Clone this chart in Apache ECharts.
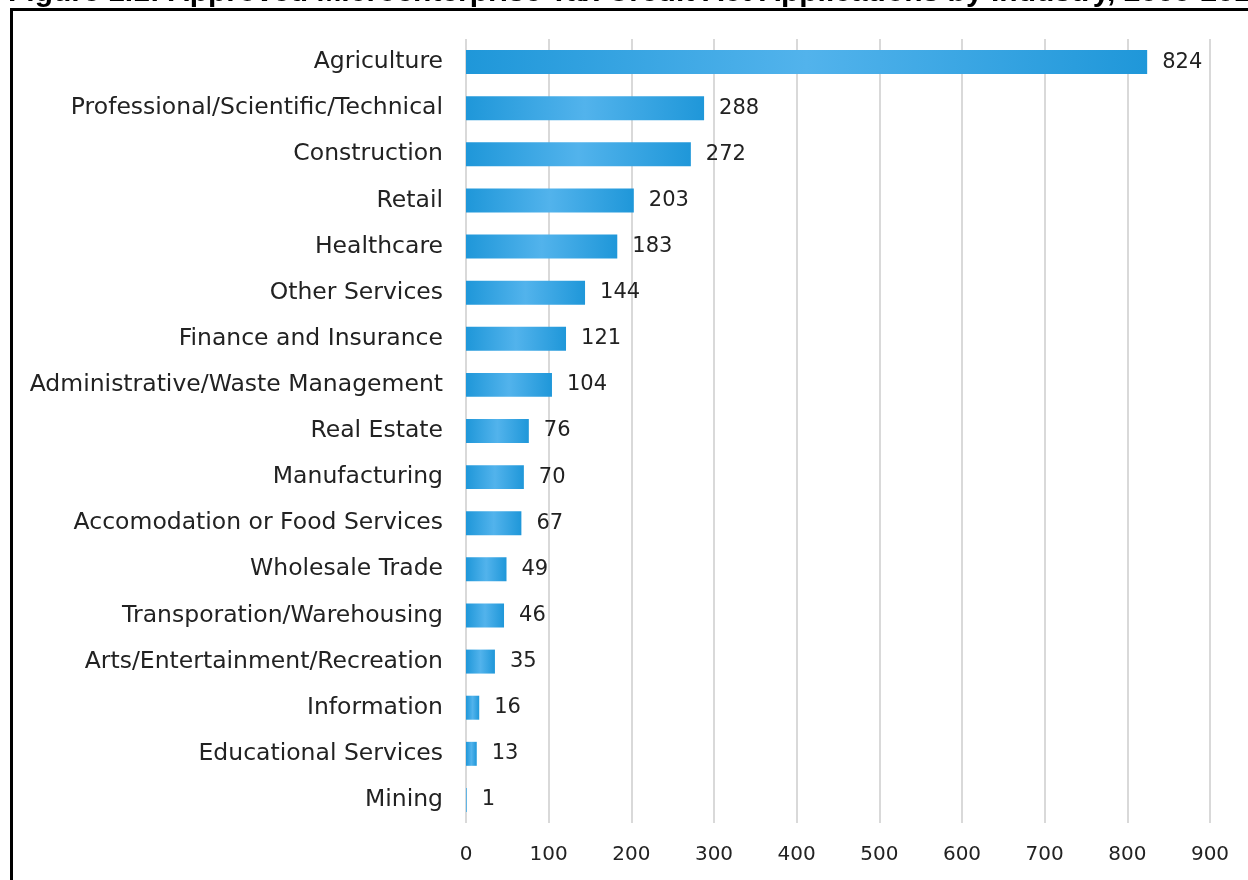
<!DOCTYPE html>
<html>
<head>
<meta charset="utf-8">
<script src="https://cdn.jsdelivr.net/npm/echarts@6/dist/echarts.min.js"></script>
<style>
html,body{margin:0;padding:0;background:#fff;}
#chart{width:1248px;height:880px;}
</style>
</head>
<body>
<div id="chart"></div>
<script>
const titleText = 'Figure 1.1: Approved Microenterprise Tax Credit Act Applications by Industry, 2000-2016';
const categories = ['Agriculture','Professional/Scientific/Technical','Construction','Retail','Healthcare','Other Services','Finance and Insurance','Administrative/Waste Management','Real Estate','Manufacturing','Accomodation or Food Services','Wholesale Trade','Transporation/Warehousing','Arts/Entertainment/Recreation','Information','Educational Services','Mining'];
const values = [824,288,272,203,183,144,121,104,76,70,67,49,46,35,16,13,1];
const xTicks = [0,100,200,300,400,500,600,700,800,900];

const FONT = 'DejaVu Sans';
const chart = echarts.init(document.getElementById('chart'), null, {renderer:'canvas'});
chart.setOption({
  animation:false,
  backgroundColor:'#ffffff',
  graphic:[
    {type:'text', left:8, top:-22, style:{text:titleText, font:'bold 30px "Liberation Sans", Arial', fill:'#000'}},
    {type:'rect', shape:{x:11.5, y:9.5, width:1400, height:1000}, style:{fill:'none', stroke:'#000', lineWidth:3}}
  ],
  grid:{left:466, right:38, top:39, bottom:57, containLabel:false},
  xAxis:{
    type:'value', min:xTicks[0], max:xTicks[xTicks.length-1], interval:100,
    axisLine:{show:false}, axisTick:{show:false},
    splitLine:{lineStyle:{color:'#d9d9d9', width:2}},
    axisLabel:{color:'#222', fontSize:20, fontFamily:FONT, margin:22}
  },
  yAxis:{
    type:'category', data:categories, inverse:true,
    axisLine:{show:false}, axisTick:{show:false},
    axisLabel:{color:'#222', fontSize:23.5, fontFamily:FONT, margin:23}
  },
  series:[{
    type:'bar', data:values, barWidth:'52%',
    itemStyle:{color:new echarts.graphic.LinearGradient(0,0,1,0,[
      {offset:0,color:'#1f97d9'},{offset:0.5,color:'#52b3ec'},{offset:1,color:'#1f97d9'}])},
    label:{show:true, position:'right', distance:15, color:'#222', fontSize:21, fontFamily:FONT}
  }]
});
</script>
</body>
</html>
